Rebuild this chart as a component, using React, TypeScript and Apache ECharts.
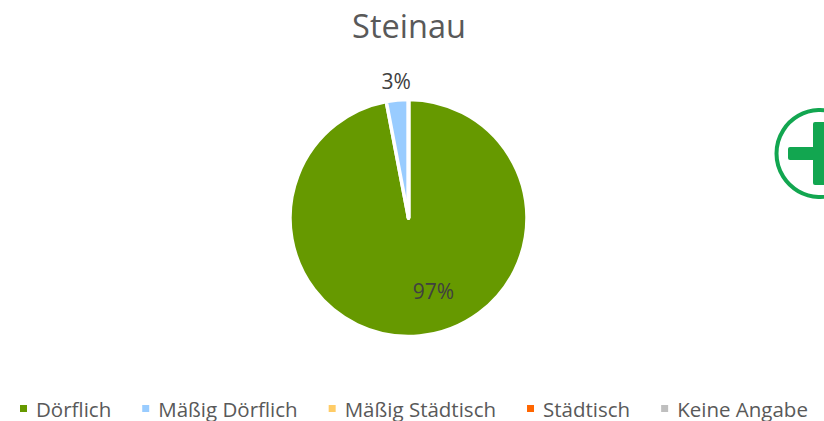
import React, { useEffect, useRef } from "react";
import * as echarts from "echarts";

const titleText = "Steinau";
const categories = ["Dörflich", "Mäßig Dörflich", "Mäßig Städtisch", "Städtisch", "Keine Angabe"];
const values = [97, 3, 0, 0, 0];
const colors = ["#669900", "#99CCFF", "#FFCC66", "#FF6600", "#BFBFBF"];

const FONT = "'Open Sans', 'Noto Sans', sans-serif";
const ICON = "#12A650";

export default function App() {
  const ref = useRef<HTMLDivElement>(null);
  useEffect(() => {
    const chart = echarts.init(ref.current!, undefined, { renderer: "svg" });
    chart.setOption({
      animation: false,
      backgroundColor: "#FFFFFF",
      title: {
        text: titleText,
        left: 404,
        top: 4,
        textAlign: "center",
        textStyle: { fontFamily: FONT, fontSize: 32.5, fontWeight: "normal", color: "#595959" },
      },
      legend: {
        left: 18,
        top: 397.5,
        padding: 0,
        itemWidth: 9,
        itemHeight: 9,
        itemGap: 29,
        icon: "rect",
        data: categories,
        textStyle: { fontFamily: FONT, fontSize: 20.5, lineHeight: 22, color: "#595959", padding: [0, 0, 0, 3] },
      },
      series: [
        {
          type: "pie",
          center: [408.5, 218],
          radius: [0, 118.5],
          startAngle: 90,
          clockwise: true,
          silent: true,
          stillShowZeroSum: false,
          itemStyle: { borderColor: "#FFFFFF", borderWidth: 3.5 },
          labelLine: { show: false },
          data: categories.map((name, i) => ({
            name,
            value: values[i],
            itemStyle: { color: colors[i] },
            label: {
              show: values[i] > 0,
              position: i === 0 ? "inside" : "outside",
              formatter: "{c}%",
              fontFamily: FONT,
              fontSize: 21,
              color: "#404040",
            },
          })),
          labelLayout: (p: any) =>
            p.dataIndex === 0 ? { dx: 19, dy: 11 } : { dx: 50, dy: -4 },
        },
      ],
      graphic: [
        {
          type: "circle",
          shape: { cx: 820, cy: 153.5, r: 43.5 },
          style: { fill: "#FFFFFF", stroke: ICON, lineWidth: 4 },
        },
        {
          type: "rect",
          shape: { x: 788, y: 147, width: 64, height: 13, r: 2 },
          style: { fill: ICON },
        },
        {
          type: "rect",
          shape: { x: 813, y: 122, width: 14, height: 63, r: 2 },
          style: { fill: ICON },
        },
      ],
    });
    return () => chart.dispose();
  }, []);
  return <div ref={ref} style={{ position: "absolute", left: 0, top: 0, width: 824, height: 421 }} />;
}
